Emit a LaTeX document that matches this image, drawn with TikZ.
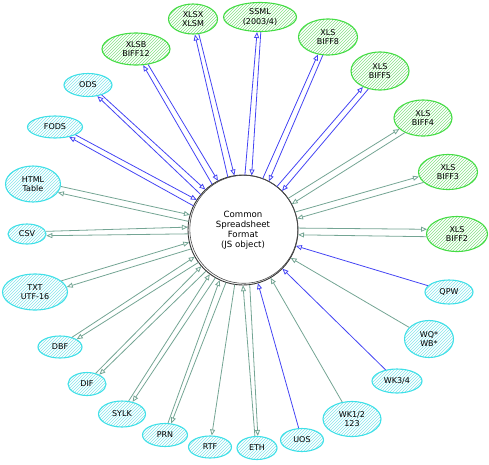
\documentclass[tikz,border=0pt]{standalone}
\usepackage{fontspec}
\setmainfont{DejaVu Sans}
\usetikzlibrary{shapes.geometric,patterns,arrows.meta,calc}
\definecolor{gbord}{HTML}{44DD44}
\definecolor{ghatch}{HTML}{86E286}
\definecolor{cbord}{HTML}{3FE0E8}
\definecolor{chatch}{HTML}{86E6EC}
\definecolor{eblue}{HTML}{4444F4}
\definecolor{eteal}{HTML}{74A594}
\tikzset{
  fmt/.style={ellipse, line width=1.1pt, inner sep=0pt, align=center,
    font=\fontsize{8}{9.5}\selectfont, preaction={fill=white}},
  gfmt/.style={fmt, draw=gbord, pattern=north east lines, pattern color=ghatch},
  cfmt/.style={fmt, draw=cbord, pattern=north east lines, pattern color=chatch},
  edge/.style={-{Triangle[open,length=6pt,width=5pt]}, line width=0.8pt},
}
\newcommand\rwedge[2]{%
  \draw[edge,#2] let \p1=($(core)-(#1)$), \n1={atan2(\y1,\x1)}, \n2={\n1+7}, \n3={\n1+176.5} in (#1.\n2) -- (core.\n3);
  \draw[edge,#2] let \p1=($(core)-(#1)$), \n1={atan2(\y1,\x1)}, \n2={\n1+183.5}, \n3={\n1-7} in (core.\n2) -- (#1.\n3);
}
\newcommand\readedge[2]{\draw[edge,#2] (#1) -- (core);}
\newcommand\writeedge[2]{\draw[edge,#2] (core) -- (#1);}
\begin{document}
\begin{tikzpicture}[x=1pt,y=-1pt]
\useasboundingbox (0,0) rectangle (489,464);
% core
\node[circle, minimum size=110pt, inner sep=0pt, align=center,
  font=\fontsize{8.6}{10.2}\selectfont] (core) at (243,230)
  {Common\\Spreadsheet\\Format\\(JS object)};
\draw[line width=0.9pt, black!80] (core.center) circle (55);
\draw[line width=0.6pt, black!70] (243.8,229.3) circle (54);
% green nodes
\node[gfmt, minimum width=68pt, minimum height=32pt] (xlsb) at (136,49) {XLSB\\BIFF12};
\node[gfmt, minimum width=49pt, minimum height=30pt] (xlsx) at (193,19) {XLSX\\XLSM};
\node[gfmt, minimum width=73pt, minimum height=29pt] (ssml) at (260,17) {SSML\\(2003/4)};
\node[gfmt, minimum width=59pt, minimum height=36pt] (b8) at (328,37) {XLS\\BIFF8};
\node[gfmt, minimum width=58pt, minimum height=38pt] (b5) at (380,71) {XLS\\BIFF5};
\node[gfmt, minimum width=58pt, minimum height=36pt] (b4) at (423,118) {XLS\\BIFF4};
\node[gfmt, minimum width=59pt, minimum height=35pt] (b3) at (448,172) {XLS\\BIFF3};
\node[gfmt, minimum width=61pt, minimum height=35pt] (b2) at (457,234) {XLS\\BIFF2};
% cyan nodes
\node[cfmt, minimum width=48pt, minimum height=23pt] (ods) at (88,85) {ODS};
\node[cfmt, minimum width=55pt, minimum height=22pt] (fods) at (55,127) {FODS};
\node[cfmt, minimum width=55pt, minimum height=36pt] (html) at (33,184) {HTML\\Table};
\node[cfmt, minimum width=38pt, minimum height=20pt] (csv) at (27,234) {CSV};
\node[cfmt, minimum width=65pt, minimum height=36pt] (txt) at (35,292) {TXT\\UTF-16};
\node[cfmt, minimum width=44pt, minimum height=22pt] (dbf) at (60,347) {DBF};
\node[cfmt, minimum width=38pt, minimum height=23pt] (dif) at (87,384) {DIF};
\node[cfmt, minimum width=47pt, minimum height=26pt] (sylk) at (122,414) {SYLK};
\node[cfmt, minimum width=45pt, minimum height=23pt] (prn) at (165,435) {PRN};
\node[cfmt, minimum width=43pt, minimum height=22pt] (rtf) at (210,447) {RTF};
\node[cfmt, minimum width=40pt, minimum height=23pt] (eth) at (257,448) {ETH};
\node[cfmt, minimum width=43pt, minimum height=23pt] (uos) at (302,440) {UOS};
\node[cfmt, minimum width=58pt, minimum height=35pt] (wk1) at (352,419) {WK1/2\\123};
\node[cfmt, minimum width=50pt, minimum height=24pt] (wk3) at (397,381) {WK3/4};
\node[cfmt, minimum width=49pt, minimum height=37pt] (wq) at (429,339) {WQ*\\WB*};
\node[cfmt, minimum width=48pt, minimum height=24pt] (qpw) at (449,292) {QPW};
% edges
\rwedge{xlsb}{eblue}
\rwedge{xlsx}{eblue}
\rwedge{ssml}{eblue}
\rwedge{b8}{eblue}
\rwedge{b5}{eblue}
\rwedge{b4}{eteal}
\rwedge{b3}{eteal}
\rwedge{b2}{eteal}
\rwedge{ods}{eblue}
\rwedge{fods}{eblue}
\rwedge{html}{eteal}
\rwedge{csv}{eteal}
\rwedge{txt}{eteal}
\rwedge{dbf}{eteal}
\rwedge{dif}{eteal}
\rwedge{sylk}{eteal}
\rwedge{prn}{eteal}
\writeedge{rtf}{eteal}
\rwedge{eth}{eteal}
\readedge{uos}{eblue}
\readedge{wk1}{eteal}
\readedge{wk3}{eblue}
\readedge{wq}{eteal}
\readedge{qpw}{eblue}
\end{tikzpicture}
\end{document}
